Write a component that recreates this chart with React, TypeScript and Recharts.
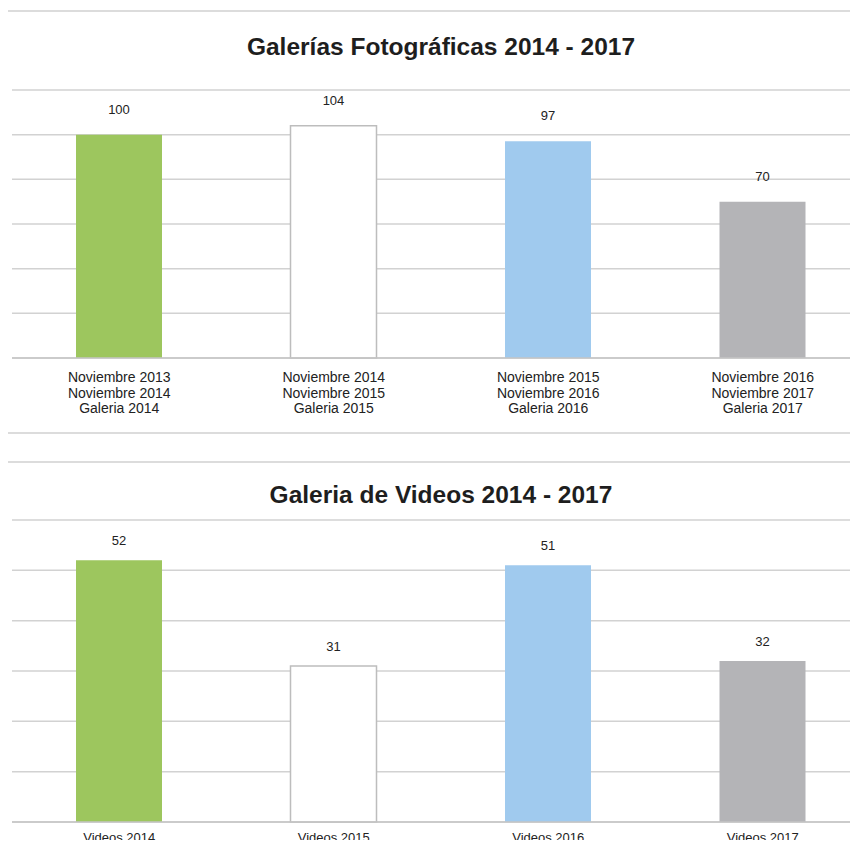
import React from 'react';
import { BarChart, Bar, XAxis, YAxis, CartesianGrid, Cell, LabelList } from 'recharts';

const photoTitle = 'Galerías Fotográficas 2014 - 2017';
const photoCategories = [
  'Noviembre 2013\nNoviembre 2014\nGaleria 2014',
  'Noviembre 2014\nNoviembre 2015\nGaleria 2015',
  'Noviembre 2015\nNoviembre 2016\nGaleria 2016',
  'Noviembre 2016\nNoviembre 2017\nGaleria 2017',
];
const photoValues = [100, 104, 97, 70];
const photoTicks = [0, 20, 40, 60, 80, 100, 120];

const videoTitle = 'Galeria de Videos 2014 - 2017';
const videoCategories = ['Videos 2014', 'Videos 2015', 'Videos 2016', 'Videos 2017'];
const videoValues = [52, 31, 51, 32];
const videoTicks = [0, 10, 20, 30, 40, 50, 60];

const FILLS = ['#9dc65e', '#ffffff', '#a0caee', '#b4b4b7'];
const STROKES = ['none', '#bdbdbd', 'none', 'none'];
const FONT = '"Liberation Sans", Arial, sans-serif';
const GRID = '#d2d2d2';

const photoData = photoCategories.map((c, i) => ({ cat: c, value: photoValues[i] }));
const videoData = videoCategories.map((c, i) => ({ cat: c, value: videoValues[i] }));

const MultiTick = (props: any) => {
  const { x, y, payload, fontSize, dy0, lh } = props;
  const lines = String(payload.value).split('\n');
  return (
    <text x={x} y={y} textAnchor="middle" fill="#222" fontSize={fontSize} fontFamily={FONT}>
      {lines.map((l: string, i: number) => (
        <tspan key={i} x={x} dy={i === 0 ? dy0 : lh}>
          {l}
        </tspan>
      ))}
    </text>
  );
};

const NoTick = () => <g />;

const Sep = ({ top }: { top: number }) => (
  <div style={{ position: 'absolute', top, left: 8, width: 860, height: 2, background: '#dcdcdc' }} />
);

const Title = ({ top, text }: { top: number; text: string }) => (
  <div
    style={{
      position: 'absolute',
      top,
      left: 0,
      width: 882,
      textAlign: 'center',
      fontFamily: FONT,
      fontWeight: 'bold',
      fontSize: 24.5,
      lineHeight: '28px',
      color: '#1e1e1e',
    }}
  >
    {text}
  </div>
);

export default function App() {
  return (
    <div style={{ position: 'relative', margin: -8, width: 858, height: 848, overflow: 'hidden', background: '#fff' }}>
      <Sep top={10} />
      <Title top={33} text={photoTitle} />
      <div style={{ position: 'absolute', top: 0, left: 0 }}>
        <BarChart width={882} height={433} data={photoData} margin={{ top: 90, right: 12, left: 12, bottom: 0 }} barSize={86}>
          <CartesianGrid vertical={false} stroke={GRID} strokeWidth={1.5} horizontalValues={photoTicks} />
          <YAxis width={0} domain={[0, 120]} ticks={photoTicks} tick={<NoTick />} tickLine={false} axisLine={{ stroke: GRID, strokeWidth: 1.5 }} />
          <XAxis
            dataKey="cat"
            height={75}
            interval={0}
            tickSize={0}
            tickMargin={0}
            tickLine={false}
            axisLine={{ stroke: '#c4c4c4', strokeWidth: 1.5 }}
            tick={<MultiTick fontSize={14} dy0={24} lh={15.5} />}
          />
          <Bar dataKey="value" isAnimationActive={false} strokeWidth={1.5}>
            {photoData.map((d, i) => (
              <Cell key={i} fill={FILLS[i]} stroke={STROKES[i]} />
            ))}
            <LabelList dataKey="value" position="top" offset={21} fill="#222" fontSize={13} fontFamily={FONT} />
          </Bar>
        </BarChart>
      </div>
      <Sep top={432} />
      <Sep top={461} />
      <Title top={481} text={videoTitle} />
      <div style={{ position: 'absolute', top: 433, left: 0 }}>
        <BarChart width={882} height={440} data={videoData} margin={{ top: 87, right: 12, left: 12, bottom: 0 }} barSize={86}>
          <CartesianGrid vertical={false} stroke={GRID} strokeWidth={1.5} horizontalValues={videoTicks} />
          <YAxis width={0} domain={[0, 60]} ticks={videoTicks} tick={<NoTick />} tickLine={false} axisLine={{ stroke: GRID, strokeWidth: 1.5 }} />
          <XAxis
            dataKey="cat"
            height={51}
            interval={0}
            tickSize={0}
            tickMargin={0}
            tickLine={false}
            axisLine={{ stroke: '#c4c4c4', strokeWidth: 1.5 }}
            tick={<MultiTick fontSize={13} dy0={20} lh={15} />}
          />
          <Bar dataKey="value" isAnimationActive={false} strokeWidth={1.5}>
            {videoData.map((d, i) => (
              <Cell key={i} fill={FILLS[i]} stroke={STROKES[i]} />
            ))}
            <LabelList dataKey="value" position="top" offset={15} fill="#222" fontSize={13} fontFamily={FONT} />
          </Bar>
        </BarChart>
      </div>
    </div>
  );
}
